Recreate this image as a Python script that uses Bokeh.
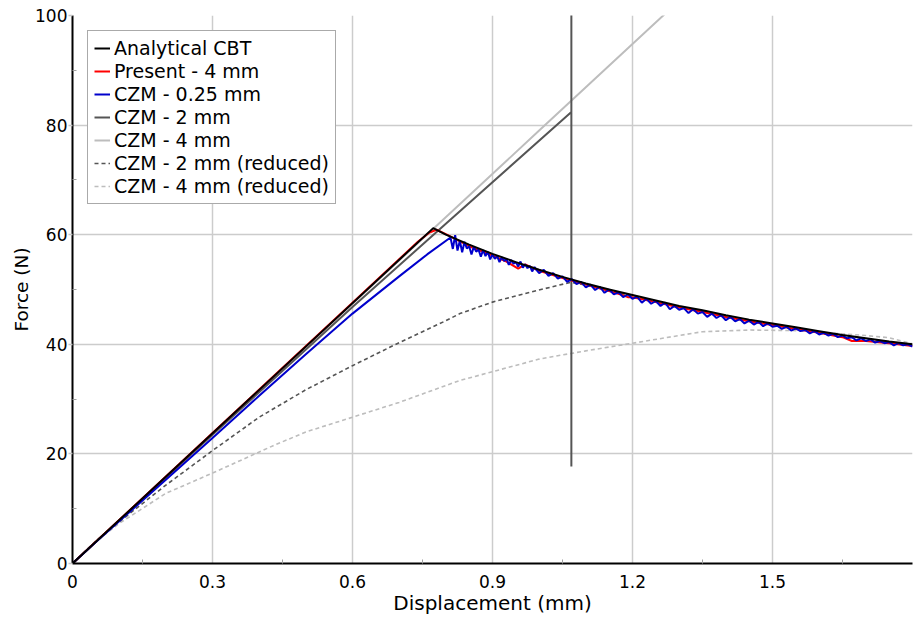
from bokeh.plotting import figure
from bokeh.models import FixedTicker, Legend, LegendItem, Range1d
from bokeh.embed import file_html
from bokeh.resources import INLINE

# ---------------- data ----------------
cbt_x = [0, 0.773, 0.8, 0.85, 0.9, 0.95, 1.0, 1.05, 1.1, 1.15, 1.2, 1.25, 1.3,
         1.35, 1.4, 1.45, 1.5, 1.55, 1.6, 1.65, 1.7, 1.75, 1.8]
cbt_y = [0, 61.2, 60.0, 58.2, 56.5, 55.0, 53.6, 52.3, 51.1, 50.0, 49.0, 48.0, 47.0,
         46.2, 45.3, 44.5, 43.8, 43.1, 42.4, 41.7, 41.1, 40.5, 40.0]

present_x = [0, 0.3, 0.6, 0.74, 0.765, 0.78, 0.80, 0.85, 0.90, 0.93, 0.955, 0.97,
             1.0, 1.05, 1.1, 1.15, 1.175, 1.19, 1.2, 1.25, 1.3, 1.35, 1.4, 1.45,
             1.5, 1.55, 1.6, 1.65, 1.67, 1.7, 1.75, 1.8]
present_y = [0, 23.8, 47.6, 58.7, 60.4, 60.9, 60.1, 57.9, 56.2, 55.1, 53.8, 54.6,
             53.4, 52.1, 50.9, 49.7, 49.1, 48.6, 48.6, 47.7, 46.7, 45.9, 45.0, 44.2,
             43.5, 42.8, 42.1, 41.3, 40.6, 40.6, 40.2, 39.7]

czm025_x = [0, 0.05, 0.1, 0.2, 0.3, 0.4, 0.5, 0.6, 0.7, 0.76, 0.81,
            0.815, 0.82, 0.825, 0.83, 0.835, 0.84, 0.845, 0.85, 0.855, 0.86, 0.865,
            0.87, 0.875, 0.88, 0.885, 0.89, 0.895,
            0.90, 0.905, 0.91, 0.915, 0.92, 0.925, 0.93, 0.935, 0.94, 0.945,
            0.95, 0.955, 0.96, 0.965, 0.97, 0.975, 0.98, 0.985, 0.99, 0.995,
            1.00, 1.01, 1.02, 1.03, 1.04, 1.05, 1.06, 1.07, 1.08, 1.09,
            1.10, 1.11, 1.12, 1.13, 1.14, 1.15, 1.16, 1.17, 1.18, 1.19,
            1.20, 1.21, 1.22, 1.23, 1.24, 1.25, 1.26, 1.27, 1.28, 1.29,
            1.30, 1.31, 1.32, 1.33, 1.34, 1.35, 1.36, 1.37, 1.38, 1.39,
            1.40, 1.41, 1.42, 1.43, 1.44, 1.45, 1.46, 1.47, 1.48, 1.49,
            1.50, 1.51, 1.52, 1.53, 1.54, 1.55, 1.56, 1.57, 1.58, 1.59,
            1.60, 1.61, 1.62, 1.63, 1.64, 1.65, 1.66, 1.67, 1.68, 1.69,
            1.70, 1.71, 1.72, 1.73, 1.74, 1.75, 1.76, 1.77, 1.78, 1.79, 1.80]
czm025_y = [0, 3.9, 7.7, 15.3, 22.9, 30.6, 38.2, 45.6, 52.4, 56.4, 59.5,
            57.4, 59.9, 57.1, 58.9, 56.8, 58.7, 57.5, 57.9, 56.4, 57.8, 56.9,
            57.3, 56.0, 57.2, 56.1, 56.9, 55.5,
            56.4, 55.6, 56.1, 55.0, 55.9, 55.2, 55.6, 54.5, 55.4, 54.7,
            55.0, 54.2, 55.1, 54.0, 54.6, 53.9, 54.3, 53.3, 54.1, 53.5,
            53.0, 53.6, 52.5, 53.0, 52.0, 52.4, 51.4, 51.9, 51.0, 51.4,
            50.4, 50.9, 49.9, 50.5, 49.4, 50.0, 49.1, 49.5, 48.6, 49.1,
            48.3, 48.7, 47.6, 48.3, 47.4, 47.9, 47.0, 47.6, 46.4, 47.0,
            46.3, 46.6, 45.7, 46.4, 45.6, 45.9, 45.0, 45.6, 44.8, 45.3,
            44.4, 45.0, 44.2, 44.6, 43.8, 44.3, 43.6, 44.1, 43.3, 43.8,
            43.2, 43.4, 42.8, 43.2, 42.5, 42.9, 42.4, 42.6, 42.0, 42.4,
            41.8, 42.1, 41.6, 41.9, 41.3, 41.6, 41.1, 41.3, 40.7, 41.1,
            40.6, 40.9, 40.3, 40.6, 40.2, 40.4, 39.8, 40.2, 39.8, 40.0, 39.6]

czm2_x = [0, 0.3, 0.6, 0.8, 1.069, 1.069, 1.069]
czm2_y = [0, 23.5, 46.8, 62.0, 82.4, 106.0, 17.7]

czm4_x = [0, 0.5, 1.0, 1.3]
czm4_y = [0, 39.5, 79.0, 102.7]

czm2r_x = [0, 0.05, 0.1, 0.2, 0.3, 0.4, 0.5, 0.6, 0.7, 0.75, 0.8, 0.83, 0.9, 0.98,
           1.067, 1.1, 1.2, 1.3, 1.4, 1.5, 1.6, 1.7, 1.8]
czm2r_y = [0, 4.1, 7.6, 14.3, 20.6, 26.7, 31.7, 36.1, 40.3, 42.3, 44.3, 45.6, 47.7, 49.5,
           51.3, 50.8, 48.8, 46.9, 45.2, 43.7, 42.3, 41.0, 39.9]

czm4r_x = [0, 0.05, 0.1, 0.2, 0.3, 0.43, 0.5, 0.6, 0.7, 0.83, 0.9, 1.0, 1.046, 1.1,
           1.2, 1.3, 1.35, 1.45, 1.55, 1.62, 1.7, 1.75, 1.8]
czm4r_y = [0, 4.0, 7.3, 12.8, 16.5, 21.5, 24.0, 26.7, 29.4, 33.4, 35.0, 37.3, 38.0, 38.8,
           40.2, 41.6, 42.3, 42.6, 42.5, 42.1, 41.6, 41.2, 40.1]

x_ticks = [0, 0.3, 0.6, 0.9, 1.2, 1.5]
x_minor = [0.15, 0.45, 0.75, 1.05, 1.35, 1.65]
x_labels = ["0", "0.3", "0.6", "0.9", "1.2", "1.5"]
y_ticks = [0, 20, 40, 60, 80, 100]
y_minor = [10, 30, 50, 70, 90]

FONT = "DejaVu Sans"

p = figure(width=915, height=618, x_range=Range1d(0, 1.8), y_range=Range1d(0, 100),
           output_backend="svg", toolbar_location=None,
           min_border_left=72, min_border_right=3, min_border_top=15, min_border_bottom=55)
p.outline_line_color = None
p.background_fill_color = "white"

# axes
p.xaxis.ticker = FixedTicker(ticks=x_ticks, minor_ticks=x_minor)
p.xaxis.major_label_overrides = {t: l for t, l in zip(x_ticks, x_labels)}
p.yaxis.ticker = FixedTicker(ticks=y_ticks, minor_ticks=y_minor)
p.yaxis.major_label_overrides = {t: str(t) for t in y_ticks}

for ax in (p.xaxis, p.yaxis):
    ax.axis_line_color = "black"
    ax.axis_line_width = 2
    ax.major_tick_line_color = "#c8c8c8"
    ax.major_tick_line_width = 1.5
    ax.minor_tick_line_color = "#a0a0a0"
    ax.minor_tick_in = 4
    ax.minor_tick_out = 0
    ax.major_label_text_font = FONT
    ax.major_label_text_font_size = "17px"
    ax.major_label_text_color = "black"
    ax.axis_label_text_font = FONT
    ax.axis_label_text_font_style = "normal"
    ax.axis_label_text_color = "black"

p.xaxis.major_tick_in = 0
p.xaxis.major_tick_out = 0
p.xaxis.major_label_standoff = 11
p.xaxis.axis_label = "Displacement (mm)"
p.xaxis.axis_label_text_font_size = "20px"
p.xaxis.axis_label_standoff = 0

p.yaxis.major_tick_in = 0
p.yaxis.major_tick_out = 4
p.yaxis.major_label_standoff = 1
p.yaxis.axis_label = "Force (N)"
p.yaxis.axis_label_text_font_size = "18.5px"
p.yaxis.axis_label_standoff = 0

p.grid.grid_line_color = "#cccccc"
p.grid.grid_line_width = 1.5

# lines (draw order: back to front)
r_czm4r = p.line(czm4r_x, czm4r_y, line_color="#bdbdbd", line_width=1.6, line_dash="4 3")
r_czm2r = p.line(czm2r_x, czm2r_y, line_color="#555555", line_width=1.6, line_dash="4 3")
r_czm4 = p.line(czm4_x, czm4_y, line_color="#bdbdbd", line_width=2)
r_czm2 = p.line(czm2_x, czm2_y, line_color="#555555", line_width=2)
r_pres = p.line(present_x, present_y, line_color="#ff0000", line_width=2)
r_czm025 = p.line(czm025_x, czm025_y, line_color="#0000cc", line_width=2)
r_cbt = p.line(cbt_x, cbt_y, line_color="black", line_width=2)

legend = Legend(items=[
    LegendItem(label="Analytical CBT", renderers=[r_cbt]),
    LegendItem(label="Present - 4 mm", renderers=[r_pres]),
    LegendItem(label="CZM - 0.25 mm", renderers=[r_czm025]),
    LegendItem(label="CZM - 2 mm", renderers=[r_czm2]),
    LegendItem(label="CZM - 4 mm", renderers=[r_czm4]),
    LegendItem(label="CZM - 2 mm (reduced)", renderers=[r_czm2r]),
    LegendItem(label="CZM - 4 mm (reduced)", renderers=[r_czm4r]),
])
legend.location = "top_left"
legend.margin = 15
legend.padding = 6
legend.spacing = 1
legend.label_height = 22
legend.glyph_height = 22
legend.glyph_width = 16
legend.label_standoff = 4
legend.label_text_font = FONT
legend.label_text_font_size = "19px"
legend.label_text_color = "black"
legend.border_line_color = "#555555"
legend.border_line_width = 1.5
legend.background_fill_color = "white"
legend.background_fill_alpha = 1
p.add_layout(legend)

open("out.html", "w").write(file_html(p, INLINE))
